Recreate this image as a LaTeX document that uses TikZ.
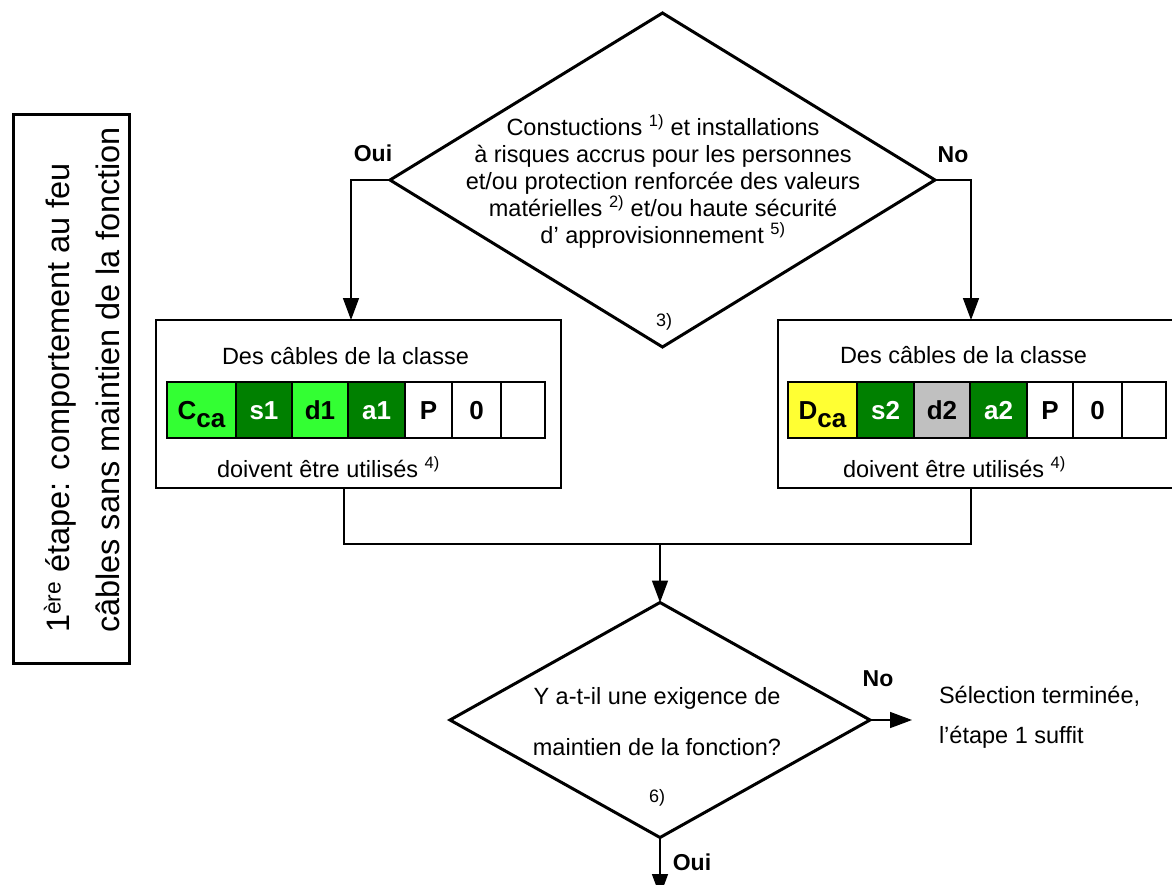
\documentclass[tikz,border=0pt]{standalone}
\usepackage{fontspec}
\setmainfont{Liberation Sans}
\usetikzlibrary{arrows.meta,shapes.geometric}
\definecolor{lgreen}{RGB}{51,255,51}
\definecolor{dgreen}{RGB}{0,128,0}
\definecolor{cyellow}{RGB}{255,255,51}
\definecolor{cgray}{RGB}{192,192,192}
\newcommand\myft{\fontsize{23.5}{27}\selectfont}
\begin{document}
\begin{tikzpicture}[x=1pt,y=-1pt,
  every node/.style={inner sep=0pt,outer sep=0pt},
  arr/.style={line width=1.5pt,-{Triangle[length=22pt,width=16pt]}},
  conn/.style={line width=1.5pt},
  dia/.style={draw,diamond,line width=3pt,inner sep=0pt},
  boxx/.style={draw,line width=1.5pt,minimum width=405pt,minimum height=168pt},
  cell/.style={draw,line width=2pt,minimum height=56pt,text height=18pt,text depth=0pt,
    font=\bfseries\fontsize{26}{26}\selectfont},
  lab/.style={font=\bfseries\fontsize{23}{23}\selectfont},
  txt/.style={font=\myft},
  note/.style={font=\fontsize{18}{18}\selectfont}
]
\useasboundingbox (0,0) rectangle (1172,885);
\clip (0,0) rectangle (1172,885);
\fill[white] (0,0) rectangle (1172,885);

% left frame
\node[draw,line width=3pt,minimum width=116pt,minimum height=548pt] (frame) at (71,389) {};
\node[rotate=90,align=left,font=\fontsize{32.5}{50}\selectfont] (ftxt) at (82,380)
  {1\textsuperscript{ère} étape: comportement au feu\\câbles sans maintien de la fonction};

% top diamond
\node[dia,minimum width=545pt,minimum height=334pt] (d1) at (662.5,180) {};
\node[txt,align=center] (d1t) at (663,181)
  {Constuctions \textsuperscript{1)} et installations\\
   à risques accrus pour les personnes\\
   et/ou protection renforcée des valeurs\\
   matérielles \textsuperscript{2)} et/ou haute sécurité\\
   d’ approvisionnement \textsuperscript{5)}};
\node[note] (n3) at (664,322) {3)};
\node[lab] (oui1) at (373,153) {Oui};
\node[lab] (no1) at (953,155) {No};

% boxes
\node[boxx] (lbox) at (358.5,404) {};
\node[boxx] (rbox) at (980.5,404) {};
\node[txt,anchor=west] (lt1) at (222,356) {Des câbles de la classe};
\node[txt,anchor=west] (lt2) at (217,467) {doivent être utilisés \textsuperscript{4)}};
\node[txt,anchor=west] (rt1) at (840,355) {Des câbles de la classe};
\node[txt,anchor=west] (rt2) at (843,467) {doivent être utilisés \textsuperscript{4)}};

% left cells
\node[cell,fill=lgreen,minimum width=69pt] (lc1) at (201.5,410) {C\raisebox{-8pt}{ca}};
\node[cell,fill=dgreen,text=white,minimum width=56pt] (lc2) at (264,410) {s1};
\node[cell,fill=lgreen,minimum width=56pt] (lc3) at (320,410) {d1};
\node[cell,fill=dgreen,text=white,minimum width=57pt] (lc4) at (376.5,410) {a1};
\node[cell,fill=white,minimum width=47pt] (lc5) at (428.5,410) {P};
\node[cell,fill=white,minimum width=49pt] (lc6) at (476.5,410) {0};
\node[cell,fill=white,minimum width=44pt] (lc7) at (523,410) {};

% right cells
\node[cell,fill=cyellow,minimum width=69pt] (rc1) at (822.5,410) {D\raisebox{-8pt}{ca}};
\node[cell,fill=dgreen,text=white,minimum width=57pt] (rc2) at (885.5,410) {s2};
\node[cell,fill=cgray,minimum width=56pt] (rc3) at (942,410) {d2};
\node[cell,fill=dgreen,text=white,minimum width=57pt] (rc4) at (998.5,410) {a2};
\node[cell,fill=white,minimum width=46pt] (rc5) at (1050,410) {P};
\node[cell,fill=white,minimum width=49pt] (rc6) at (1097.5,410) {0};
\node[cell,fill=white,minimum width=44pt] (rc7) at (1144,410) {};

% bottom diamond
\node[dia,minimum width=420pt,minimum height=235pt] (d2) at (660,720) {};
\node[align=center,font=\fontsize{23.5}{51}\selectfont] (d2t) at (657,722)
  {Y a-t-il une exigence de\\maintien de la fonction?};
\node[note] (n6) at (657,798) {6)};
\node[lab] (no2) at (878,679) {No};
\node[lab] (oui2) at (692,862) {Oui};
\node[align=left,anchor=west,font=\fontsize{23.5}{40}\selectfont] (sel) at (939,717)
  {Sélection terminée,\\l’étape 1 suffit};

% connectors
\coordinate (merge) at (660,544);
\coordinate (endc) at (660,896);
\draw[arr] (d1.west) -| ([xshift=195pt]lbox.north west);
\draw[arr] (d1.east) -| ([xshift=193pt]rbox.north west);
\draw[conn] ([xshift=188pt]lbox.south west) |- (merge) -| ([xshift=193pt]rbox.south west);
\draw[arr] (merge) -- (d2.north);
\draw[arr,shorten >=27pt] (d2.east) -- (d2.east -| sel.west);
\draw[arr] (d2.south) -- (endc);
\end{tikzpicture}
\end{document}
